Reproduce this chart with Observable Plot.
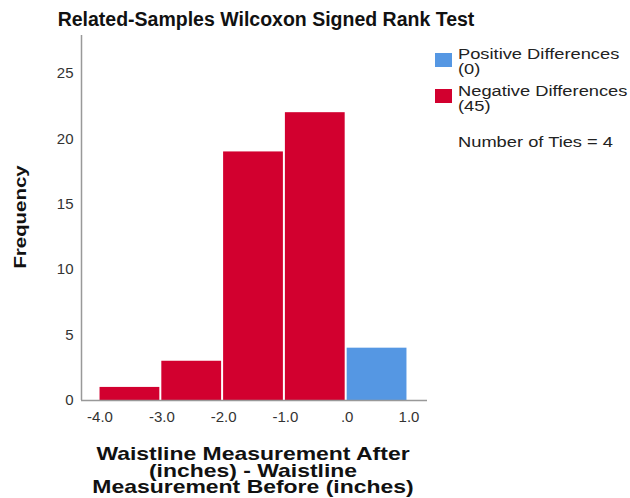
<!DOCTYPE html>
<html>
<head>
<meta charset="utf-8">
<script src="https://cdn.jsdelivr.net/npm/d3@7"></script>
<script src="https://cdn.jsdelivr.net/npm/@observablehq/plot@0.6"></script>
<style>
  html, body { margin: 0; padding: 0; background: #fff; }
  #wrap { position: relative; width: 630px; height: 498px; overflow: hidden; font-family: "Liberation Sans", Arial, sans-serif; color: #111; }
  #wrap svg { position: absolute; left: 0; top: 0; }
  .abs { position: absolute; white-space: nowrap; }
  #title { left: 0; width: 532px; top: 7.5px; text-align: center; font-weight: bold; font-size: 19.5px; line-height: normal; }
  #ylabel { left: 21px; top: 217px; font-weight: bold; font-size: 17px; transform: translate(-50%, -50%) rotate(-90deg) scaleX(1.2); }
  #xlabel { left: 253px; top: 446px; transform: translateX(-50%) scaleX(1.24); text-align: center; font-weight: bold; font-size: 18.5px; line-height: 16.5px; }
  .sw { position: absolute; width: 17px; height: 14px; }
  .lg { position: absolute; font-size: 15.5px; line-height: 15px; color: #222; transform: scaleX(1.18); transform-origin: 0 0; white-space: nowrap; }
</style>
</head>
<body>
<div id="wrap"></div>
<script>
const binStart = [-4, -3, -2, -1, 0];
const binEnd = [-3, -2, -1, 0, 1];
const counts = [1, 3, 19, 22, 4];
const signs = ["Negative", "Negative", "Negative", "Negative", "Positive"];
const yTicks = [0, 5, 10, 15, 20, 25];
const xTicks = [-4, -3, -2, -1, 0, 1];
const xTickLabels = ["-4.0", "-3.0", "-2.0", "-1.0", ".0", "1.0"];
const legendNames = ["Positive Differences", "Negative Differences"];
const legendCounts = ["(0)", "(45)"];
const legendColors = ["#5597e3", "#d2002f"];
const tiesText = "Number of Ties = 4";
const titleText = "Related-Samples Wilcoxon Signed Rank Test";
const xLabelLines = ["Waistline Measurement After", "(inches) - Waistline", "Measurement Before (inches)"];
const yLabelText = "Frequency";

const data = binStart.map((s, i) => ({x1: s, x2: binEnd[i], y: counts[i], sign: signs[i]}));

const chart = Plot.plot({
  width: 630,
  height: 498,
  marginLeft: 81,
  marginRight: 203,
  marginTop: 35,
  marginBottom: 98,
  style: {fontFamily: '"Liberation Sans", Arial, sans-serif', fontSize: "15px", color: "#333", background: "transparent"},
  x: {domain: [-4.3, 1.3], label: null},
  y: {domain: [0, 27.9], label: null},
  color: {domain: ["Positive", "Negative"], range: legendColors},
  marks: [
    Plot.rectY(data, {x1: "x1", x2: "x2", y: "y", fill: "sign", insetRight: 2}),
    Plot.axisY({ticks: yTicks, tickSize: 0, tickPadding: 8, label: null, fontSize: 15}),
    Plot.axisX({ticks: xTicks, tickSize: 0, tickPadding: 11, label: null, fontSize: 15,
      tickFormat: d => xTickLabels[xTicks.indexOf(d)]}),
    Plot.ruleX([-4.3], {stroke: "#999", strokeWidth: 1.5}),
    Plot.ruleY([0], {stroke: "#999", strokeWidth: 1.5})
  ]
});

const wrap = document.getElementById("wrap");
wrap.appendChild(chart);

function add(cls, id, html, style) {
  const d = document.createElement("div");
  d.className = cls;
  if (id) d.id = id;
  d.innerHTML = html;
  if (style) Object.assign(d.style, style);
  wrap.appendChild(d);
  return d;
}
add("abs", "title", titleText);
add("abs", "ylabel", yLabelText);
add("abs", "xlabel", xLabelLines.join("<br>"));

const swTops = [52.5, 89];
const textTops = [45.7, 83.4];
legendNames.forEach((n, i) => {
  add("sw", null, "", {left: "435px", top: swTops[i] + "px", background: legendColors[i]});
  add("lg", null, n + "<br>" + legendCounts[i], {left: "457.5px", top: textTops[i] + "px"});
});
add("lg", null, tiesText, {left: "457.5px", top: "134px"});
</script>
</body>
</html>
